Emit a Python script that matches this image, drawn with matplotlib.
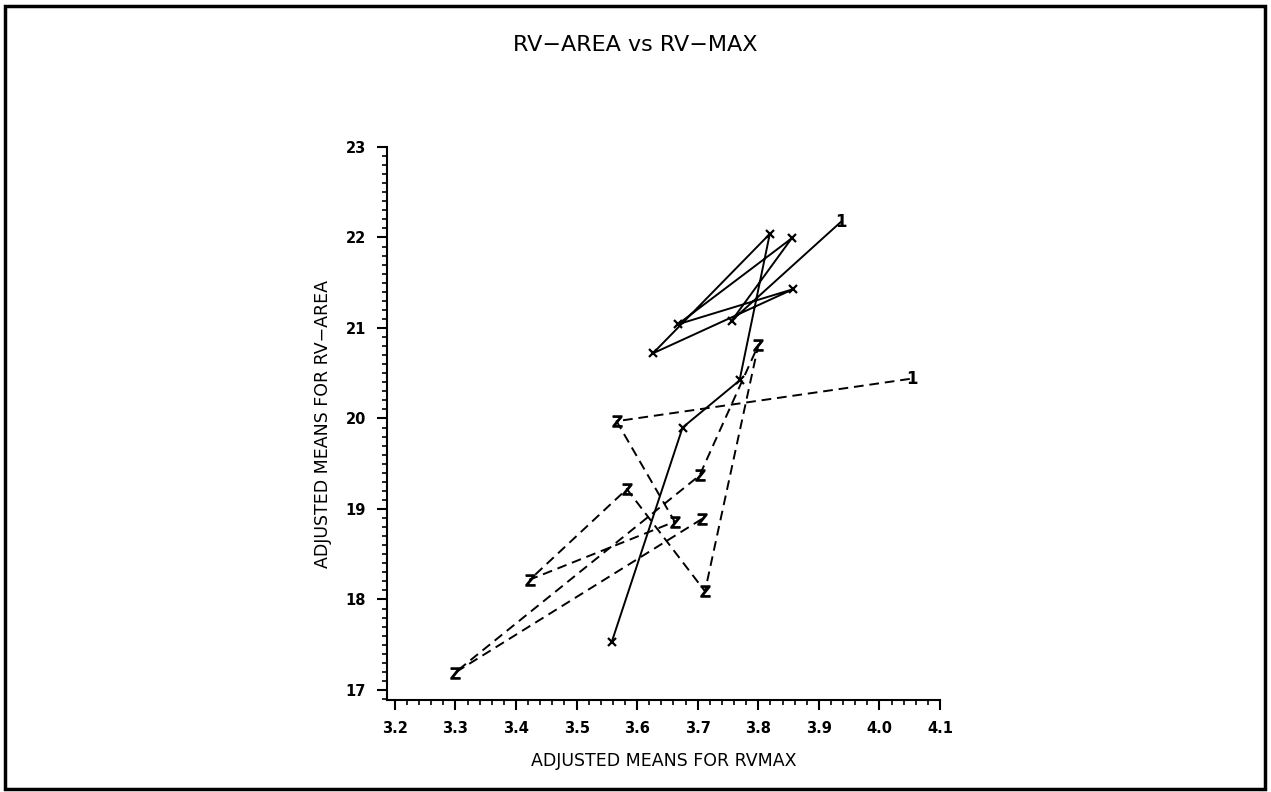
import matplotlib.pyplot as plt
from matplotlib.ticker import MultipleLocator
from matplotlib.patches import Rectangle

# solid series (x markers), last point is the "1" curve label
rvmax_1=[3.558,3.675,3.769,3.819,3.626,3.858,3.667,3.855,3.756,3.936]
area_1=[17.53,19.90,20.42,22.04,20.72,21.43,21.04,21.99,21.08,22.17]
# dashed series (Z markers), last point is the "1" curve label
rvmax_2=[3.707,3.299,3.703,3.800,3.712,3.583,3.423,3.662,3.566,4.053]
area_2=[18.89,17.19,19.37,20.81,18.09,19.22,18.22,18.86,19.97,20.44]

xticks=[3.2,3.3,3.4,3.5,3.6,3.7,3.8,3.9,4.0,4.1]
xticklabels=['3.2','3.3','3.4','3.5','3.6','3.7','3.8','3.9','4.0','4.1']
yticks=[17,18,19,20,21,22,23]

fig=plt.figure(figsize=(12.71,7.92),dpi=100)
fig.patches.append(Rectangle((5/1271,3/792),1260/1271,783/792,transform=fig.transFigure,
                             fill=False,edgecolor='black',linewidth=2.5))
ax=fig.add_axes([387/1271,92/792,553/1271,553/792])

ax.plot(rvmax_1,area_1,color='black',linewidth=1.4)
ax.plot(rvmax_1[:-1],area_1[:-1],linestyle='none',marker='x',markersize=6,
        markeredgewidth=1.6,color='black')
ax.plot(rvmax_2,area_2,color='black',linewidth=1.4,linestyle=(0,(5,3)))
ax.plot(rvmax_2[:-1],area_2[:-1],linestyle='none',marker='$\\mathsf{Z}$',markersize=8,
        color='black')
ax.text(rvmax_1[-1],area_1[-1],'1',ha='center',va='center',fontsize=12,fontweight='bold')
ax.text(rvmax_2[-1],area_2[-1],'1',ha='center',va='center',fontsize=12,fontweight='bold')

ax.set_xlim(3.187,4.1)
ax.set_ylim(16.889,23)
ax.spines['top'].set_visible(False)
ax.spines['right'].set_visible(False)
ax.spines['left'].set_linewidth(1.5)
ax.spines['bottom'].set_linewidth(1.5)
ax.set_xticks(xticks)
ax.set_xticklabels(xticklabels,fontsize=10.5,fontweight='bold')
ax.set_yticks(yticks)
ax.set_yticklabels([str(v) for v in yticks],fontsize=10.5,fontweight='bold')
ax.xaxis.set_minor_locator(MultipleLocator(0.02))
ax.yaxis.set_minor_locator(MultipleLocator(0.1))
ax.tick_params(axis='both',which='major',length=7,width=1.5,pad=8)
ax.tick_params(axis='both',which='minor',length=3.5,width=1.2)

ax.set_xlabel('ADJUSTED MEANS FOR RVMAX',fontsize=12.5,labelpad=12)
ax.set_ylabel('ADJUSTED MEANS FOR RV\u2212AREA',fontsize=12.5,labelpad=10)
fig.text(0.5,1-45/792,'RV\u2212AREA vs RV\u2212MAX',ha='center',va='center',fontsize=16)

plt.savefig('out.png',dpi=100)
